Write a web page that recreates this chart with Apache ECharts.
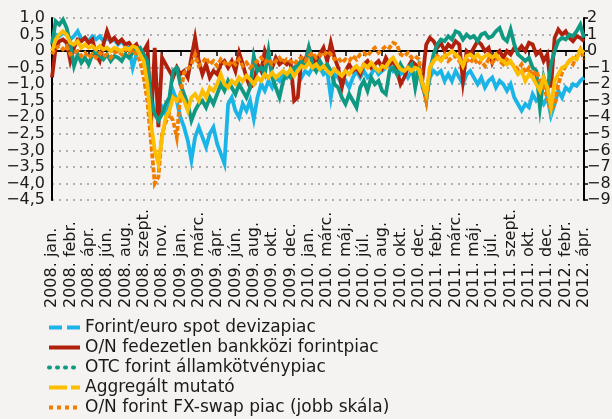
<!DOCTYPE html>
<html>
<head>
<meta charset="utf-8">
<script src="https://cdn.jsdelivr.net/npm/echarts@6/dist/echarts.min.js"></script>
<style>
  html, body { margin: 0; padding: 0; background: #f4f3f1; }
  #chart { width: 612px; height: 419px; }
</style>
</head>
<body>
<div id="chart"></div>
<script>
// tick labels, one every 5 points
const tickLabels = ['2008. jan.', '2008. febr.', '2008. ápr.', '2008. jún.', '2008. aug.', '2008. szept.', '2008. nov.',
  '2009. jan.', '2009. márc.', '2009. ápr.', '2009. jún.', '2009. aug.', '2009. okt.', '2009. dec.',
  '2010. jan.', '2010. márc.', '2010. máj.', '2010. júl.', '2010. aug.', '2010. okt.', '2010. dec.',
  '2011. febr.', '2011. márc.', '2011. máj.', '2011. júl.', '2011. szept.', '2011. okt.', '2011. dec.',
  '2012. febr.', '2012. ápr.'];
const step = 5;

// Forint/euro spot devizapiac (bal skála)
const spotFx = [
  0.3, 0.5, 0.45, 0.55, 0.5, 0.35, 0.45, 0.6, 0.35, 0.4,
  0.3, 0.45, 0.35, 0.45, 0.3, 0.4, 0.3, 0.35, 0.2, 0.3,
  0.15, 0.1, -0.5, -0.1, 0.05, -0.1, -0.4, -1.3, -1.9, -2.0,
  -1.7, -1.9, -1.6, -1.2, -1.5, -2.0, -2.3, -2.7, -3.3, -2.6,
  -2.3, -2.6, -2.9, -2.5, -2.3, -2.8, -3.1, -3.4, -1.6, -1.4,
  -1.8, -2.0, -1.6, -1.8, -1.5, -2.05, -1.4, -1.0, -1.2, -0.9,
  -1.1, -0.8, -0.9, -0.7, -0.8, -0.6, -0.7, -0.5, -0.8, -0.6,
  -0.7, -0.5, -0.6, -0.5, -0.7, -0.6, -1.4, -0.7, -0.8, -1.0,
  -0.9, -1.1, -0.8, -0.6, -0.8, -0.6, -0.8, -0.7, -0.5, -0.7,
  -0.6, -0.5, -0.4, -0.6, -0.5, -0.7, -0.6, -0.8, -0.6, -0.7,
  -0.6, -1.1, -1.4, -0.8, -0.6, -0.7, -0.6, -0.9, -0.7, -0.9,
  -0.6, -0.8, -1.0, -0.7, -0.6, -0.8, -1.0, -0.8, -1.1, -0.9,
  -0.8, -1.1, -0.9, -1.0, -1.2, -1.0, -1.4, -1.6, -1.8, -1.6,
  -1.7, -1.3, -1.5, -1.4, -1.6, -1.4, -1.95, -1.6, -1.2, -1.4,
  -1.1, -1.2, -1.0, -1.05, -0.9, -0.8
];
// O/N fedezetlen bankközi forintpiac
const onInterbank = [
  -0.8, 0.1, 0.3, 0.35, 0.25, -0.3, 0.1, 0.35, 0.3, 0.4,
  0.25, 0.35, -0.1, -0.3, 0.2, 0.6, 0.3, 0.4, 0.25, 0.35,
  0.2, 0.25, 0.1, 0.2, -0.05, 0.0, 0.2, -2.2, 0.1, -2.3,
  -0.2, -0.4, -0.6, -0.8, -0.5, -0.7, -0.6, -0.8, -0.2, 0.4,
  -0.3, -0.7, -0.4, -0.8, -0.6, -0.7, -0.4, -0.3, -0.5, -0.3,
  -0.6, -0.05, -0.4, -0.8, -1.1, -1.0, -0.4, -0.6, 0.0, -0.3,
  -0.5, -0.2, -0.4, -0.3, -0.4, -0.3, -1.5, -1.4, -0.2, -0.3,
  0.1, -0.2, -0.4, -0.1, 0.1, -0.3, 0.25, -0.2, -0.5, -1.1,
  -0.6, -0.4, -0.6, -0.5, -0.7, -0.4, -0.3, -0.5, -0.4, -0.3,
  -0.5, -0.2, -0.4, -0.3, -0.6, -1.0, -0.8, -0.5, -0.3, -0.4,
  -0.5, -0.8, 0.2, 0.4, 0.3, 0.1, 0.25, 0.0, 0.2, 0.1,
  0.3, 0.2, -0.9, 0.0, -0.1, 0.1, 0.3, 0.2, 0.0, 0.1,
  -0.35, -0.1, 0.0, -0.2, 0.0, -0.1, 0.1, 0.0, 0.15, 0.0,
  0.25, 0.2, -0.1, 0.0, -0.3, -0.1, -1.1, 0.4, 0.65, 0.5,
  0.6, 0.4, 0.3, 0.45, 0.4, 0.3
];
// OTC forint államkötvénypiac
const otcBond = [
  0.2, 0.9, 0.8, 0.95, 0.7, 0.2, -0.45, -0.1, -0.35, -0.2,
  -0.4, -0.1, 0.0, -0.15, -0.25, -0.1, -0.3, -0.15, -0.2, -0.3,
  -0.1, -0.2, -0.05, 0.05, 0.1, -0.1, -0.3, -1.5, -1.9, -2.1,
  -1.9, -1.6, -1.4, -0.6, -0.5, -1.0, -1.3, -1.6, -2.1, -1.8,
  -1.6, -1.5, -1.7, -1.4, -1.6, -1.3, -1.0, -1.2, -0.9, -1.1,
  -1.3, -1.0, -1.2, -1.4, -1.1, -0.15, -0.6, -0.5, -0.7, 0.0,
  -0.8, -1.1, -1.4, -0.9, -0.7, -0.8, -0.5, -0.4, -0.3, -0.4,
  0.1, -0.4, -0.6, -0.3, -0.5, -0.4, -0.6, -1.0, -1.1, -1.4,
  -1.6, -1.3, -1.5, -1.7, -1.1, -0.9, -1.2, -0.8, -1.0, -0.9,
  -1.2, -1.3, -0.6, -0.5, -0.7, -0.4, -0.6, -0.5, -0.4, -1.1,
  -0.5, -1.0, -1.5, -0.6, -0.1, 0.2, 0.35, 0.3, 0.45, 0.35,
  0.6, 0.55, 0.35, 0.5, 0.4, 0.45, 0.3, 0.5, 0.55, 0.4,
  0.45, 0.6, 0.7, 0.4, 0.3, 0.65, 0.2, -0.1, -0.2, -0.3,
  -0.2, -0.5, -0.6, -1.7, -0.8, -1.2, -0.4, 0.0, 0.3, 0.4,
  0.35, 0.5, 0.45, 0.6, 0.8, 0.4
];
// Aggregált mutató
const aggregate = [
  0.0, 0.35, 0.5, 0.6, 0.5, 0.25, 0.2, 0.3, 0.1, 0.2,
  0.1, 0.15, 0.05, 0.15, 0.05, 0.1, 0.0, 0.1, 0.05, 0.0,
  0.1, 0.05, 0.15, 0.1, -0.1, -0.3, -1.0, -2.2, -3.0, -3.4,
  -2.6, -2.0, -1.8, -1.4, -1.5, -1.3, -1.5, -1.8, -1.4, -1.3,
  -1.5, -1.2, -1.4, -1.1, -1.2, -1.0, -0.7, -1.0, -1.1, -0.9,
  -1.0, -0.8, -0.9, -0.75, -0.85, -1.0, -0.8, -0.9, -0.7, -0.8,
  -0.65, -0.8, -0.7, -0.6, -0.7, -0.55, -0.75, -0.6, -0.45, -0.5,
  -0.35, -0.5, -0.4, -0.55, -0.45, -0.6, -0.7, -0.55, -0.65, -0.75,
  -0.6, -0.7, -0.55, -0.45, -0.6, -0.4, -0.5, -0.35, -0.5, -0.6,
  -0.45, -0.5, -0.3, -0.2, -0.4, -0.55, -0.6, -0.5, -0.6, -0.5,
  -0.55, -1.0, -1.3, -0.5, -0.3, -0.2, -0.3, -0.15, -0.1, 0.0,
  -0.1, -0.2, -0.45, -0.15, -0.1, -0.2, -0.1, -0.25, -0.15, -0.1,
  -0.2, -0.1, -0.25, -0.3, -0.4, -0.3, -0.5, -0.7, -0.6, -0.9,
  -0.7, -0.8, -1.0, -1.2, -0.8, -1.1, -1.7, -0.9, -0.7, -0.5,
  -0.45, -0.3, -0.2, -0.25, 0.05, -0.05
];
// O/N forint FX-swap piac (jobb skála)
const fxSwap = [
  -0.2, 0.2, 0.3, 0.1, 0.3, -0.2, -0.1, 0.0, -0.3, -0.1,
  -0.4, -0.2, -0.4, -0.1, -0.3, -0.2, -0.4, -0.1, 0.0, -0.2,
  0.1, -0.1, 0.1, -0.2, -0.6, -1.6, -3.0, -5.5, -8.0, -7.6,
  -5.0, -4.3, -3.8, -4.2, -5.2, -2.6, -1.3, -1.1, -0.8, -0.2,
  -0.9, -0.7, -0.4, -0.8, -0.6, -0.9, -0.5, -0.7, -0.9, -0.6,
  -0.8, -0.5, -0.9, -0.7, -1.0, -0.8, -0.6, -0.4, -0.7, -0.5,
  -0.8, -0.6, -0.4, -0.7, -0.5, -0.6, -0.8, -0.5, -0.4, -0.6,
  -0.3, -0.1, -0.4, -0.2, -0.3, 0.0, -0.2, -0.5, -0.4, -0.7,
  -0.5, -0.6, -0.3, -0.5, -0.2, -0.1, -0.3, 0.0, 0.2, -0.1,
  0.1, 0.3, 0.2, 0.5, 0.4, -0.2, -0.3, -0.1, -0.4, -0.3,
  -0.5, -2.0, -3.0, -1.0, -0.6, -0.3, -0.5, -0.2, -0.6, -0.4,
  -0.3, -0.6, -0.9, -0.5, -0.7, -0.4, -0.8, -0.6, -0.9, -0.5,
  -0.7, -0.4, -0.6, -0.8, -0.5, -0.7, -0.9, -1.1, -0.8, -1.3,
  -1.0, -1.5, -1.2, -1.8, -2.2, -2.8, -3.6, -3.2, -2.0, -1.3,
  -0.9, -0.6, -0.8, -0.3, 0.1, -0.5
];

const names = ['Forint/euro spot devizapiac', 'O/N fedezetlen bankközi forintpiac',
  'OTC forint államkötvénypiac', 'Aggregált mutató', 'O/N forint FX-swap piac (jobb skála)'];
const colors = ['#1ab4e6', '#b0200c', '#0f9882', '#fdbd00', '#f07d00'];
// dash patterns as drawn in the legend
const legendDash = [[13, 5], 'solid', [1, 7], [18, 4], [4, 4]];
const legendCap = ['butt', 'butt', 'round', 'butt', 'butt'];

// category axis: label only every 5th point
const categories = spotFx.map((v, i) => (i % step === 0 ? tickLabels[i / step] : ''));

const font = 'DejaVu Sans';
const txt = '#1a1a1a';
const minus = '\u2212';

function leftFmt(v) {
  if (v === 0) return '0';
  return (v < 0 ? minus : '') + Math.abs(v).toFixed(1).replace('.', ',');
}
function rightFmt(v) {
  return (v < 0 ? minus : '') + Math.abs(v);
}

function lineSeries(k, data, dash, yIdx) {
  return {
    name: names[k],
    type: 'line',
    data: data,
    yAxisIndex: yIdx,
    symbol: 'none',
    animation: false,
    lineStyle: { color: colors[k], width: 3.8, type: dash, cap: 'butt', join: 'miter' },
    itemStyle: { color: colors[k] }
  };
}

const chart = echarts.init(document.getElementById('chart'));
chart.setOption({
  backgroundColor: '#f4f3f1',
  animation: false,
  grid: { left: 52, right: 28, top: 18, bottom: 219, containLabel: false, outerBoundsMode: 'none' },
  legend: {
    orient: 'vertical',
    left: 47,
    top: 319,
    padding: 0,
    itemWidth: 31,
    itemHeight: 12,
    itemGap: 3,
    itemStyle: { opacity: 0 },
    data: names.map((n, k) => ({
      name: n,
      lineStyle: { color: colors[k], width: 4, type: legendDash[k], cap: legendCap[k] }
    })),
    textStyle: { fontFamily: font, fontSize: 17, color: txt, lineHeight: 17 }
  },
  xAxis: {
    type: 'category',
    data: categories,
    boundaryGap: false,
    axisLine: { lineStyle: { color: '#000', width: 2 } },
    axisTick: { interval: step - 1, length: 5, lineStyle: { color: '#000', width: 1.5 } },
    axisLabel: {
      interval: step - 1,
      rotate: 90,
      align: 'left',
      margin: 108,
      fontFamily: font,
      fontSize: 16,
      color: txt
    },
    splitLine: { show: false }
  },
  yAxis: [{
    type: 'value',
    min: -4.5,
    max: 1,
    interval: 0.5,
    axisLine: { show: true, lineStyle: { color: '#000', width: 2 } },
    axisTick: { show: false },
    axisLabel: { formatter: leftFmt, fontFamily: font, fontSize: 16, color: txt, margin: 7 },
    splitLine: { show: true, lineStyle: { color: '#9a9a9a', width: 1.5, type: [2, 5] } }
  }, {
    type: 'value',
    min: -9,
    max: 2,
    interval: 1,
    position: 'right',
    axisLine: { show: true, lineStyle: { color: '#000', width: 2 } },
    axisTick: { show: true, inside: false, length: 4, lineStyle: { color: '#000', width: 1.5 } },
    axisLabel: { formatter: rightFmt, fontFamily: font, fontSize: 16, color: txt, margin: 3 },
    splitLine: { show: false }
  }],
  series: [
    lineSeries(0, spotFx, 'solid', 0),
    lineSeries(1, onInterbank, 'solid', 0),
    lineSeries(2, otcBond, 'solid', 0),
    lineSeries(4, fxSwap, [5, 2], 1),
    lineSeries(3, aggregate, 'solid', 0)
  ]
});
</script>
</body>
</html>
